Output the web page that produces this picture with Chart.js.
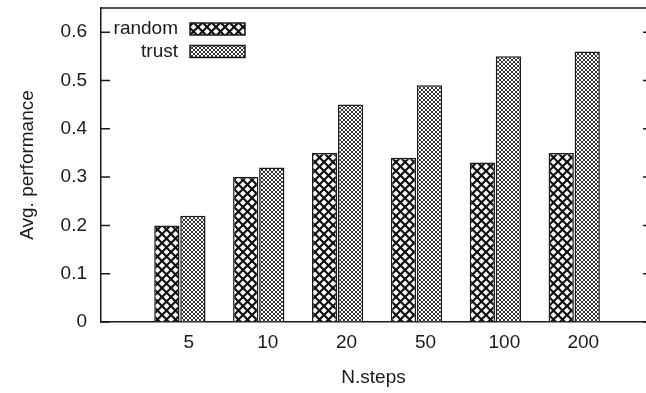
<!DOCTYPE html>
<html>
<head>
<meta charset="utf-8">
<script src="https://cdn.jsdelivr.net/npm/chart.js@4/dist/chart.umd.min.js"></script>
<style>
  body { margin: 0; background: #fff; }
  canvas { display: block; }
</style>
</head>
<body>
<canvas id="perfChart" width="646" height="393"></canvas>
<script>
// x categories (N.steps) and the two series
const stepLabels = ["5", "10", "20", "50", "100", "200"];
const randomPerf = [0.20, 0.30, 0.35, 0.34, 0.33, 0.35];
const trustPerf = [0.22, 0.32, 0.45, 0.49, 0.55, 0.56];
const yTicks = [0, 0.1, 0.2, 0.3, 0.4, 0.5, 0.6];

const ink = '#1a1a1a';
const font = { family: '"Liberation Sans", Arial, sans-serif', size: 19 };
const canvas = document.getElementById('perfChart');
const mainCtx = canvas.getContext('2d');

// crosshatch fill, tile of given size
function hatch(size, width, color) {
  const c = document.createElement('canvas');
  c.width = size; c.height = size;
  const g = c.getContext('2d');
  g.fillStyle = '#fff';
  g.fillRect(0, 0, size, size);
  g.strokeStyle = color;
  g.lineWidth = width;
  for (const o of [-size, 0, size]) {
    g.beginPath();
    g.moveTo(o - 1, -1); g.lineTo(o + size + 1, size + 1);
    g.moveTo(o + size + 1, -1); g.lineTo(o - 1, size + 1);
    g.stroke();
  }
  return mainCtx.createPattern(c, 'repeat');
}

const bigHatch = hatch(9, 2.2, '#111');
const fineHatch = hatch(4, 1, '#333');

// top border, inward y ticks and the key
const frame = {
  id: 'frame',
  afterDatasetsDraw(chart) {
    const { ctx, chartArea: a, scales: { y } } = chart;
    ctx.save();
    ctx.strokeStyle = ink;
    ctx.lineWidth = 1.5;
    ctx.beginPath();
    ctx.moveTo(a.left, a.top); ctx.lineTo(a.right, a.top);
    y.ticks.forEach(t => {
      const py = y.getPixelForValue(t.value);
      ctx.moveTo(a.left, py); ctx.lineTo(a.left + 9, py);
      ctx.moveTo(a.right - 3, py); ctx.lineTo(a.right, py);
    });
    ctx.stroke();

    ctx.font = font.size + 'px ' + font.family;
    ctx.textAlign = 'right';
    ctx.textBaseline = 'middle';
    chart.data.datasets.forEach((ds, i) => {
      const cy = a.top + 21 + i * 22.5;
      ctx.fillStyle = ink;
      ctx.fillText(ds.label, a.left + 77, cy);
      ctx.fillStyle = ds.backgroundColor;
      ctx.fillRect(a.left + 89, cy - 6, 55, 12);
      ctx.lineWidth = 1.5;
      ctx.strokeRect(a.left + 89, cy - 6, 55, 12);
    });
    ctx.restore();
  }
};

new Chart(canvas, {
  type: 'bar',
  data: {
    datasets: [{
      label: 'random',
      data: randomPerf.map((v, i) => ({ x: i, y: v })),
      backgroundColor: bigHatch,
      borderColor: ink,
      borderWidth: 1.5
    }, {
      label: 'trust',
      data: trustPerf.map((v, i) => ({ x: i, y: v })),
      backgroundColor: fineHatch,
      borderColor: ink,
      borderWidth: 1.5
    }]
  },
  options: {
    responsive: false,
    animation: false,
    layout: { padding: { top: 8, left: 0, right: 0, bottom: 0 } },
    datasets: { bar: { categoryPercentage: 0.66, barPercentage: 0.97 } },
    plugins: {
      legend: { display: false },
      tooltip: { enabled: false }
    },
    scales: {
      x: {
        type: 'linear',
        offset: false,
        min: -1,
        max: 5.91,
        afterBuildTicks: s => { s.ticks = stepLabels.map((_, i) => ({ value: i })); },
        afterFit: s => { s.height = 71; s.paddingLeft = 0; s.paddingRight = 0; },
        ticks: {
          callback: v => stepLabels[v],
          labelOffset: 9,
          padding: 9,
          maxRotation: 0,
          font: font,
          color: ink
        },
        grid: { offset: false, drawOnChartArea: false, drawTicks: false },
        border: { color: ink, width: 1.5 },
        title: { display: true, text: 'N.steps', font: font, color: ink, padding: { top: 0, bottom: 4 } }
      },
      y: {
        min: 0,
        max: 0.65,
        afterBuildTicks: s => { s.ticks = yTicks.map(v => ({ value: v })); },
        afterFit: s => { s.width = 101; s.paddingTop = 0; s.paddingBottom = 0; },
        ticks: {
          callback: v => String(v),
          padding: 14,
          font: font,
          color: ink
        },
        grid: { drawOnChartArea: false, drawTicks: false },
        border: { color: ink, width: 1.5 },
        title: { display: true, text: 'Avg. performance', font: font, color: ink, padding: { top: 16, bottom: 0 } }
      }
    }
  },
  plugins: [frame]
});
</script>
</body>
</html>
